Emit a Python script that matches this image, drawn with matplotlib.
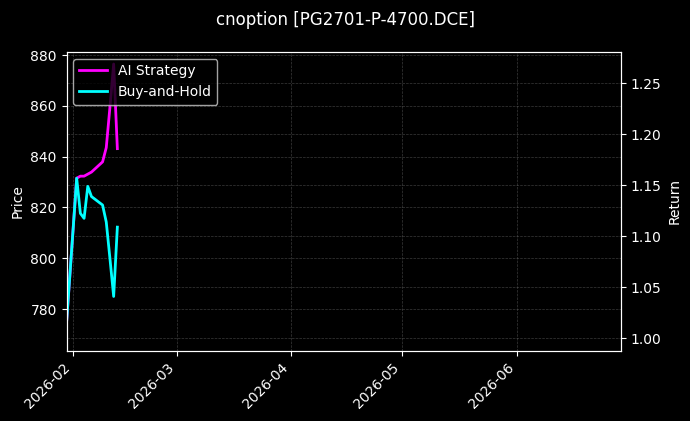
import matplotlib
matplotlib.use("Agg")
import matplotlib.pyplot as plt
import matplotlib.dates as mdates
import pandas as pd

plt.style.use("dark_background")

dates = pd.to_datetime([
    "2026-01-30", "2026-02-02", "2026-02-03", "2026-02-04", "2026-02-05",
    "2026-02-06", "2026-02-09", "2026-02-10", "2026-02-11", "2026-02-12",
    "2026-02-13",
])
ai_strategy = [1.002, 1.157, 1.159, 1.159, 1.161, 1.163, 1.173, 1.187, 1.227, 1.269, 1.186]
buy_and_hold = [1.002, 1.157, 1.1225, 1.1176, 1.149, 1.139, 1.1307, 1.114, 1.078, 1.041, 1.109]

title = "cnoption [PG2701-P-4700.DCE]"
x_limits = ("2026-01-30 06:00", "2026-06-29 05:00")
price_limits = (763.6, 881.3)
return_limits = (0.9878, 1.281)

fig = plt.figure(figsize=(6.9, 4.21), dpi=100)
ax = fig.add_axes([0.0964, 0.167, 0.8036, 0.710])
ax2 = ax.twinx()

ax.set_ylim(*price_limits)
ax.set_ylabel("Price", fontsize=10)
ax.set_xlim(pd.Timestamp(x_limits[0]), pd.Timestamp(x_limits[1]))

ax2.plot(dates, ai_strategy, color="#ff00ff", lw=2, label="AI Strategy")
ax2.plot(dates, buy_and_hold, color="#00ffff", lw=2, label="Buy-and-Hold")
ax2.set_ylim(*return_limits)
ax2.set_ylabel("Return", fontsize=10)

ax.grid(True, linestyle="--", linewidth=0.5, color="gray", alpha=0.45)
ax2.grid(True, linestyle="--", linewidth=0.5, color="gray", alpha=0.45)

ax.xaxis.set_major_locator(mdates.MonthLocator())
ax.xaxis.set_major_formatter(mdates.DateFormatter("%Y-%m"))
for lbl in ax.get_xticklabels():
    lbl.set_rotation(45)
    lbl.set_ha("right")

ax2.legend(loc="upper left", fontsize=10)
fig.suptitle(title, fontsize=12, y=0.975)

fig.savefig("out.png", dpi=100)
